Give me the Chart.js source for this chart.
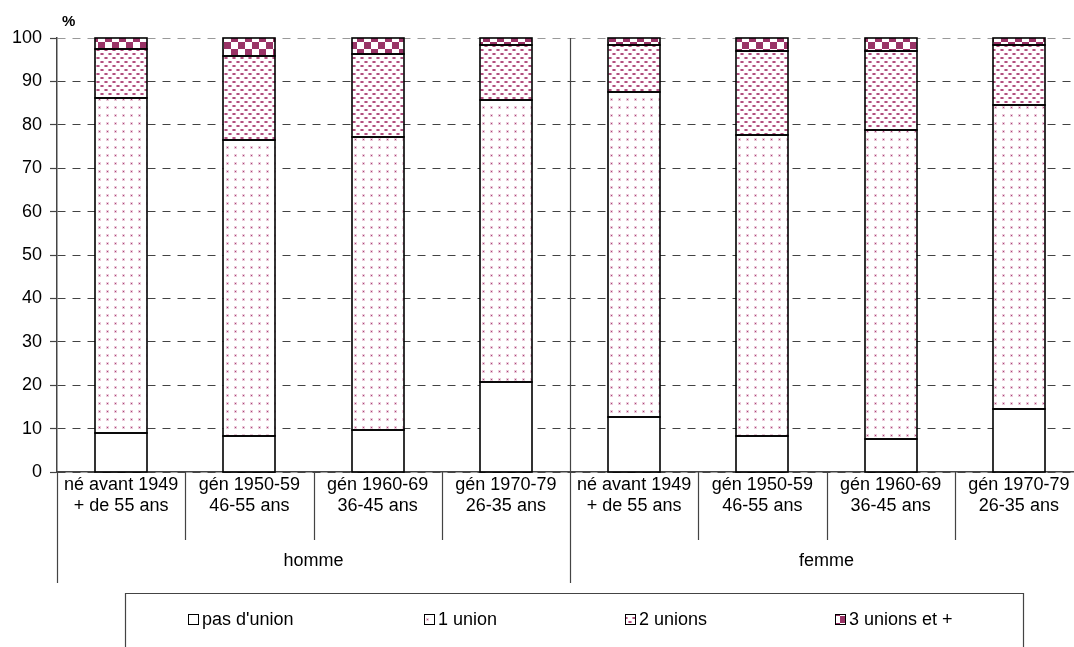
<!DOCTYPE html>
<html><head><meta charset="utf-8">
<script src="https://cdn.jsdelivr.net/npm/chart.js@4/dist/chart.umd.min.js"></script>
<style>html,body{margin:0;padding:0;background:#fff;overflow:hidden;width:1074px;height:647px}canvas{display:block}</style>
</head><body><canvas id="c" width="1083" height="647"></canvas>
<script>
const categories = [
  ["né avant 1949","+ de 55 ans"],["gén 1950-59","46-55 ans"],["gén 1960-69","36-45 ans"],["gén 1970-79","26-35 ans"],
  ["né avant 1949","+ de 55 ans"],["gén 1950-59","46-55 ans"],["gén 1960-69","36-45 ans"],["gén 1970-79","26-35 ans"]
];
const groups = ["homme","femme"];
const groupSize = 4;
const seriesNames = ["pas d'union","1 union","2 unions","3 unions et +"];
const pasUnion    = [9.0, 8.3, 9.7, 20.7, 12.7, 8.3, 7.5, 14.5];
const uneUnion    = [77.2, 68.3, 67.6, 64.9, 74.9, 69.3, 71.2, 70.1];
const deuxUnions  = [11.3, 19.3, 19.0, 12.8, 10.8, 19.3, 18.2, 13.8];
const troisUnions = [2.5, 4.1, 3.7, 1.6, 1.6, 3.1, 3.1, 1.6];
const yMin = 0, yMax = 100, yStep = 10;
const unitLabel = "%";

const FONT = "'Liberation Sans', Arial, sans-serif";
const PLUM = '#993366';

function makePattern(w, h, draw) {
  const c = document.createElement('canvas');
  c.width = w; c.height = h;
  const g = c.getContext('2d');
  g.fillStyle = '#fff'; g.fillRect(0, 0, w, h);
  draw(g);
  return c.getContext('2d').createPattern(c, 'repeat');
}
const patWhite = '#ffffff';
const patDots = makePattern(8, 8, g => {
  g.fillStyle = '#ecccdb'; g.fillRect(2, 2, 3, 3);
  g.fillStyle = '#a8477a'; g.fillRect(3, 3, 1, 1);
});
const patDash = makePattern(8, 8, g => {
  g.fillStyle = '#d89ab8';
  g.fillRect(0, 1, 4, 2);
  g.fillRect(4, 5, 4, 2);
  g.fillStyle = '#b0527f';
  g.fillRect(1, 1, 2, 2);
  g.fillRect(5, 5, 2, 2);
});
const patCheck = makePattern(14, 14, g => {
  g.fillStyle = PLUM;
  g.fillRect(0, 0, 7, 7);
  g.fillRect(7, 7, 7, 7);
});
const fills = [patWhite, patDots, patDash, patCheck];
const seriesData = [pasUnion, uneUnion, deuxUnions, troisUnions];

const outlines = {
  id: 'outlines',
  afterDatasetsDraw(chart) {
    const ctx = chart.ctx;
    ctx.save();
    ctx.strokeStyle = '#000';
    ctx.lineWidth = 1.6;
    chart.data.datasets.forEach((ds, di) => {
      const meta = chart.getDatasetMeta(di);
      meta.data.forEach(el => {
        const p = el.getProps(['x', 'y', 'base', 'width'], true);
        const l = Math.round(p.x - p.width / 2), r = Math.round(p.x + p.width / 2);
        const t = Math.round(Math.min(p.y, p.base)), b = Math.round(Math.max(p.y, p.base));
        ctx.strokeRect(l, t, r - l, b - t);
      });
    });
    ctx.restore();
  }
};

const extras = {
  id: 'extras',
  afterDraw(chart) {
    const ctx = chart.ctx;
    const xs = chart.scales.x, ys = chart.scales.y;
    const area = chart.chartArea;
    const half = (xs.getPixelForValue(1) - xs.getPixelForValue(0)) / 2;
    const axisY = ys.getPixelForValue(0);
    ctx.save();
    ctx.fillStyle = '#000';
    ctx.font = 'bold 15px ' + FONT;
    ctx.textAlign = 'left'; ctx.textBaseline = 'middle';
    ctx.fillText(unitLabel, area.left + 5, 22);
    ctx.strokeStyle = '#444'; ctx.lineWidth = 1.2;
    for (let i = 0; i <= categories.length; i++) {
      const x = Math.round(i < categories.length ? xs.getPixelForValue(i) - half : xs.getPixelForValue(i - 1) + half) + 0.5;
      const isGroup = i % groupSize === 0;
      ctx.beginPath();
      if (isGroup) {
        ctx.moveTo(x, (i === 0 || i === categories.length) ? axisY : area.top);
        ctx.lineTo(x, axisY + 111);
      } else {
        ctx.moveTo(x, axisY);
        ctx.lineTo(x, axisY + 68);
      }
      ctx.stroke();
    }
    ctx.font = '18px ' + FONT;
    ctx.textAlign = 'center'; ctx.textBaseline = 'middle';
    groups.forEach((gName, gi) => {
      const x0 = xs.getPixelForValue(gi * groupSize) - half;
      const x1 = xs.getPixelForValue(gi * groupSize + groupSize - 1) + half;
      ctx.fillStyle = '#000';
      ctx.fillText(gName, (x0 + x1) / 2, axisY + 89);
    });
    const lx0 = 125.5, lx1 = 1023.5, ly0 = 593.5;
    ctx.strokeStyle = '#444'; ctx.lineWidth = 1.2;
    ctx.beginPath();
    ctx.moveTo(lx0, 660); ctx.lineTo(lx0, ly0); ctx.lineTo(lx1, ly0); ctx.lineTo(lx1, 660);
    ctx.stroke();
    const legX = [188, 424, 625, 835];
    const ly = 619;
    ctx.textAlign = 'left';
    seriesNames.forEach((n, i) => {
      ctx.fillStyle = fills[i];
      ctx.fillRect(legX[i], ly - 5, 11, 11);
      ctx.strokeStyle = '#000'; ctx.lineWidth = 1;
      ctx.strokeRect(legX[i] + 0.5, ly - 5 + 0.5, 10, 10);
      ctx.fillStyle = '#000';
      ctx.fillText(n, legX[i] + 14, ly + 1);
    });
    ctx.restore();
  }
};

Chart.defaults.font.family = FONT;
Chart.defaults.color = '#000';

new Chart(document.getElementById('c'), {
  type: 'bar',
  data: {
    labels: categories,
    datasets: seriesNames.map((n, i) => ({
      label: n,
      data: seriesData[i],
      backgroundColor: fills[i],
      borderWidth: 0,
      categoryPercentage: 1,
      barPercentage: 0.405
    }))
  },
  options: {
    responsive: false,
    animation: false,
    devicePixelRatio: 1,
    layout: { padding: { top: 38, left: 0, right: 0, bottom: 0 } },
    plugins: { legend: { display: false }, tooltip: { enabled: false }, title: { display: false } },
    scales: {
      x: {
        stacked: true,
        afterFit(s) { s.height = 175; },
        grid: { display: false, drawTicks: false, tickLength: 0 },
        border: { display: true, color: '#444', width: 1.5 },
        ticks: { color: '#000', font: { size: 18, lineHeight: 1.15 }, padding: 3, maxRotation: 0, autoSkip: false }
      },
      y: {
        stacked: true,
        min: yMin, max: yMax,
        afterFit(s) { s.width = 57; },
        ticks: { stepSize: yStep, color: '#000', font: { size: 18 }, padding: 8 },
        grid: {
          color: c => (c.tick && c.tick.value === yMax) ? '#999' : '#444',
          lineWidth: 1,
          tickColor: '#444', tickLength: 7, tickBorderDash: [], tickWidth: 1.2
        },
        border: { display: true, color: '#444', width: 1.5, dash: [8, 7] }
      }
    }
  },
  plugins: [outlines, extras]
});
</script>
</body></html>
